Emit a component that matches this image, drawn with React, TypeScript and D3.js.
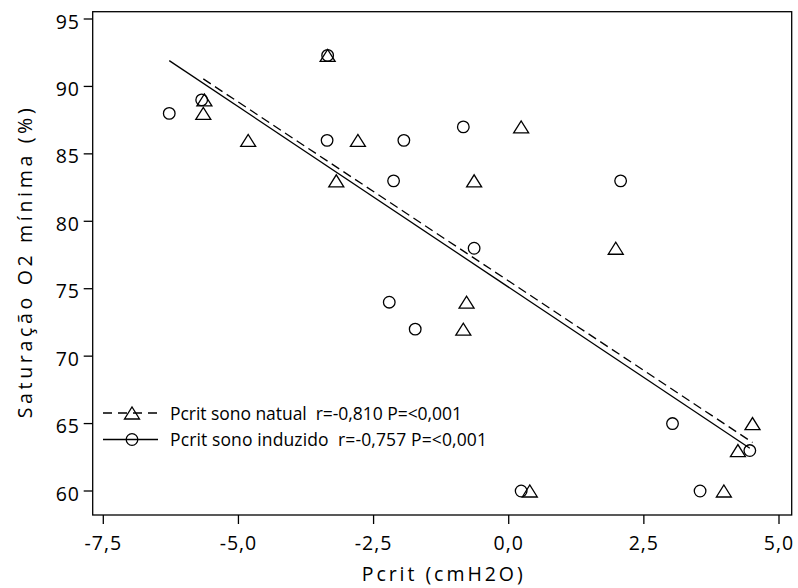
import React from "react";
import * as d3 from "d3";

// Data
const natualX = [-3.35, -5.63, -5.65, -4.82, -2.79, -3.19, -0.64, 0.23, 1.98, -0.78, -0.84, 4.51, 4.24, 0.39, 3.98];
const natualY = [92.3, 89, 88, 86, 86, 83, 83, 87, 78, 74, 72, 65, 63, 60, 60];
const induzidoX = [-3.35, -5.68, -6.28, -3.36, -1.94, -0.84, -2.13, 2.07, -0.64, -2.21, -1.73, 3.03, 4.46, 0.23, 3.54];
const induzidoY = [92.3, 89, 88, 86, 86, 87, 83, 83, 78, 74, 72, 65, 63, 60, 60];

const xTicks = [-7.5, -5.0, -2.5, 0.0, 2.5, 5.0];
const yTicks = [60, 65, 70, 75, 80, 85, 90, 95];
const legendLabels = [
  "Pcrit sono natual  r=-0,810 P=<0,001",
  "Pcrit sono induzido  r=-0,757 P=<0,001",
];
const xTitle = "Pcrit (cmH2O)";
const yTitle = "Saturação O2 mínima (%)";

const W = 798;
const H = 588;
const FONT = "'Open Sans', 'DejaVu Sans', sans-serif";

function fit(xs: number[], ys: number[]) {
  const mx = d3.mean(xs)!;
  const my = d3.mean(ys)!;
  let sxy = 0, sxx = 0;
  xs.forEach((x, i) => {
    sxy += (x - mx) * (ys[i] - my);
    sxx += (x - mx) * (x - mx);
  });
  const b = sxy / sxx;
  const a = my - b * mx;
  const [x0, x1] = d3.extent(xs) as [number, number];
  return [
    [x0, a + b * x0],
    [x1, a + b * x1],
  ] as [number, number][];
}

const fmtY = (v: number) => String(v);
const fmtX = (v: number) => v.toFixed(1).replace(".", ",");

export default function App() {
  const box = { left: 92.7, right: 791.7, top: 11.7, bottom: 515 };
  const x = d3.scaleLinear().domain([-7.5, 5]).range([103.3, 779]);
  const y = d3.scaleLinear().domain([60, 95]).range([491, 19]);

  const line = d3.line<[number, number]>().x((d) => x(d[0])).y((d) => y(d[1]));
  const natFit = fit(natualX, natualY);
  const indFit = fit(induzidoX, induzidoY);

  const tri = (cx: number, cy: number) =>
    `M${cx - 7.5},${cy + 6}L${cx + 7.5},${cy + 6}L${cx},${cy - 6}Z`;

  const sw = 1.3;

  return (
    <svg width={W} height={H} style={{ position: "absolute", left: 0, top: 0, background: "#fff" }}>
      <rect x={0} y={0} width={W} height={H} fill="#fff" />
      {/* frame */}
      <rect
        x={box.left}
        y={box.top}
        width={box.right - box.left}
        height={box.bottom - box.top}
        fill="none"
        stroke="#000"
        strokeWidth={sw}
      />
      {/* y ticks */}
      {yTicks.map((t) => (
        <g key={"y" + t}>
          <line x1={box.left - 9} x2={box.left} y1={y(t)} y2={y(t)} stroke="#000" strokeWidth={sw} />
          <text
            x={80}
            y={y(t) + 9.5}
            textAnchor="end"
            fontFamily={FONT}
            fontSize={19.5}
            letterSpacing={1}
            fill="#000"
          >
            {fmtY(t)}
          </text>
        </g>
      ))}
      {/* x ticks */}
      {xTicks.map((t) => (
        <g key={"x" + t}>
          <line x1={x(t)} x2={x(t)} y1={box.bottom} y2={box.bottom + 9} stroke="#000" strokeWidth={sw} />
          <text
            x={x(t)}
            y={550}
            textAnchor="middle"
            fontFamily={FONT}
            fontSize={19.5}
            letterSpacing={1}
            fill="#000"
          >
            {fmtX(t)}
          </text>
        </g>
      ))}
      {/* axis titles */}
      <text
        x={(box.left + box.right) / 2}
        y={581}
        textAnchor="middle"
        fontFamily={FONT}
        fontSize={19.5}
        textLength={161}
        lengthAdjust="spacing"
        fill="#000"
      >
        {xTitle}
      </text>
      <text
        transform={`translate(31.5,${(box.top + box.bottom) / 2}) rotate(-90)`}
        textAnchor="middle"
        fontFamily={FONT}
        fontSize={19.5}
        textLength={310}
        lengthAdjust="spacing"
        fill="#000"
      >
        {yTitle}
      </text>
      {/* regression lines */}
      <path d={line(natFit)!} fill="none" stroke="#000" strokeWidth={sw} strokeDasharray="9,5" />
      <path d={line(indFit)!} fill="none" stroke="#000" strokeWidth={sw} />
      {/* points */}
      {natualX.map((v, i) => (
        <path key={"t" + i} d={tri(x(v), y(natualY[i]))} fill="none" stroke="#000" strokeWidth={sw} />
      ))}
      {induzidoX.map((v, i) => (
        <circle key={"c" + i} cx={x(v)} cy={y(induzidoY[i])} r={5.8} fill="none" stroke="#000" strokeWidth={sw} />
      ))}
      {/* legend */}
      <g>
        <line x1={103} x2={158} y1={413} y2={413} stroke="#000" strokeWidth={sw} strokeDasharray="9,6" />
        <path d={tri(132, 413)} fill="none" stroke="#000" strokeWidth={sw} />
        <text
          x={170}
          y={419.5}
          fontFamily={FONT}
          fontSize={17.5}
          textLength={292}
          lengthAdjust="spacing"
          style={{ whiteSpace: "pre" }}
          fill="#000"
        >
          {legendLabels[0]}
        </text>
        <line x1={103} x2={158} y1={439.5} y2={439.5} stroke="#000" strokeWidth={sw} />
        <circle cx={132} cy={439.5} r={5.8} fill="none" stroke="#000" strokeWidth={sw} />
        <text
          x={170}
          y={446}
          fontFamily={FONT}
          fontSize={17.5}
          textLength={317}
          lengthAdjust="spacing"
          style={{ whiteSpace: "pre" }}
          fill="#000"
        >
          {legendLabels[1]}
        </text>
      </g>
    </svg>
  );
}
